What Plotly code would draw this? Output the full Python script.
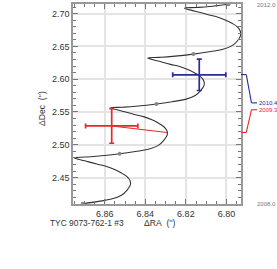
import plotly.graph_objects as go

# ---- data ----
curve_ra = [6.8709, 6.8631, 6.8567, 6.8518, 6.8491, 6.8474, 6.8476, 6.8492, 6.8518, 6.8549, 6.8591, 6.8640, 6.8699, 6.8753,
            6.8694, 6.8630, 6.8527, 6.8449, 6.8385, 6.8336, 6.8309, 6.8292, 6.8294, 6.8310, 6.8336, 6.8367, 6.8409, 6.8458, 6.8517, 6.8571,
            6.8512, 6.8448, 6.8345, 6.8267, 6.8203, 6.8154, 6.8127, 6.8110, 6.8112, 6.8128, 6.8154, 6.8185, 6.8227, 6.8276, 6.8335, 6.8389,
            6.8330, 6.8266, 6.8163, 6.8085, 6.8021, 6.7972, 6.7945, 6.7930, 6.7932, 6.7946, 6.7972, 6.8003, 6.8045, 6.8094, 6.8153, 6.8207,
            6.8148, 6.8084, 6.7990]
curve_dec = [2.4102, 2.4137, 2.4172, 2.4231, 2.4306, 2.4389, 2.4457, 2.4518, 2.4571, 2.4620, 2.4669, 2.4706, 2.4756, 2.4802,
             2.4813, 2.4828, 2.4862, 2.4897, 2.4932, 2.4991, 2.5066, 2.5149, 2.5217, 2.5278, 2.5331, 2.5380, 2.5429, 2.5466, 2.5516, 2.5562,
             2.5573, 2.5588, 2.5622, 2.5657, 2.5692, 2.5751, 2.5826, 2.5909, 2.5977, 2.6038, 2.6091, 2.6140, 2.6189, 2.6226, 2.6276, 2.6322,
             2.6333, 2.6348, 2.6382, 2.6417, 2.6452, 2.6511, 2.6586, 2.6669, 2.6737, 2.6798, 2.6851, 2.6900, 2.6949, 2.6986, 2.7036, 2.7082,
             2.7093, 2.7108, 2.7142]

years = ["2008.0", "2009.0", "2010.0", "2011.0", "2012.0"]
year_ra = [6.8709, 6.8527, 6.8345, 6.8163, 6.7990]
year_dec = [2.4102, 2.4862, 2.5622, 2.6382, 2.7142]

epochs = ["2009.3", "2010.4"]
obs_ra = [6.8566, 6.8134]
obs_dec = [2.5287, 2.6067]
err_ra = [0.0129, 0.0131]
err_dec = [0.0264, 0.0240]
pred_ra = [6.8293, 6.8138]
pred_dec = [2.5188, 2.6070]
epoch_colors = ["rgb(232,40,44)", "rgb(40,44,160)"]
label_shift = [22.7, -28.3]   # pixel offsets of the epoch labels on the right

star = "TYC 9073-762-1 #3"
x_title = "ΔRA\u00a0\u00a0('')"
y_title = "ΔDec\u00a0\u00a0('')"
time_start, time_end = "2008.0", "2012.0"

FONT = "Liberation Sans, Arial, sans-serif"

fig = go.Figure()

fig.add_trace(go.Scatter(x=curve_ra, y=curve_dec, mode="lines",
                         line=dict(color="#333333", width=1.1, shape="spline", smoothing=1.0),
                         hoverinfo="skip", showlegend=False))
fig.add_trace(go.Scatter(x=year_ra, y=year_dec, mode="markers", text=years,
                         marker=dict(size=4, color="#888888", line=dict(width=0)),
                         cliponaxis=False, showlegend=False))

for i in range(len(epochs)):
    c = epoch_colors[i]
    fig.add_trace(go.Scatter(x=[obs_ra[i], pred_ra[i]], y=[obs_dec[i], pred_dec[i]], mode="lines",
                             line=dict(color=c, width=1.1), showlegend=False))
    fig.add_trace(go.Scatter(x=[obs_ra[i]], y=[obs_dec[i]], mode="markers",
                             marker=dict(size=0.1, color=c),
                             error_x=dict(type="data", array=[err_ra[i]], color=c, thickness=1.7, width=2.5),
                             error_y=dict(type="data", array=[err_dec[i]], color=c, thickness=1.7, width=2.5),
                             showlegend=False))
    # connector from right axis to epoch label
    segs = [(0, 0, 5.3, 0), (5.3, 0, 10.5, label_shift[i]), (10.5, label_shift[i], 16, label_shift[i])]
    for (x0, y0, x1, y1) in segs:
        fig.add_shape(type="line", xref="paper", yref="y", xsizemode="pixel", ysizemode="pixel",
                      xanchor=1, yanchor=pred_dec[i], x0=x0, x1=x1, y0=y0, y1=y1,
                      line=dict(color=c, width=1.1))
    fig.add_annotation(x=1, xref="paper", y=pred_dec[i], yref="y", xshift=16, yshift=label_shift[i],
                       xanchor="left", yanchor="middle", text=epochs[i], showarrow=False,
                       font=dict(family=FONT, size=6, color=c))

fig.add_annotation(x=1, xref="paper", y=1, yref="paper", xshift=14, yshift=-1, xanchor="left", yanchor="middle",
                   text=time_end, showarrow=False, font=dict(family=FONT, size=6, color="#777777"))
fig.add_annotation(x=1, xref="paper", y=0, yref="paper", xshift=14, yshift=0, xanchor="left", yanchor="middle",
                   text=time_start, showarrow=False, font=dict(family=FONT, size=6, color="#777777"))
fig.add_annotation(x=0, xref="paper", y=0, yref="paper", xshift=-24, yshift=-18.6, xanchor="left", yanchor="middle",
                   text=star, showarrow=False, borderpad=0, font=dict(family=FONT, size=8.4, color="#333333"))
fig.add_annotation(x=0.5, xref="paper", y=0, yref="paper", xshift=3, yshift=-18.6, xanchor="center", yanchor="middle",
                   text=x_title, showarrow=False, borderpad=0, font=dict(family=FONT, size=8.6, color="#333333"))
fig.add_annotation(x=0, xref="paper", y=0.5, yref="paper", xshift=-31, yshift=-5, xanchor="center", yanchor="middle",
                   textangle=-90, text=y_title, showarrow=False, font=dict(family=FONT, size=8.6, color="#333333"))

axis_common = dict(showgrid=True, gridcolor="#e4e4e4", gridwidth=1.5, zeroline=False,
                   showline=True, linecolor="#999999", linewidth=1.5, mirror="ticks",
                   ticks="inside", ticklen=5, tickwidth=1, tickcolor="#777777",
                   tickfont=dict(family=FONT, size=9, color="#333333"), tickformat=".2f")

fig.update_xaxes(range=[6.8757, 6.7928], dtick=0.02, tick0=6.80,
                 minor=dict(dtick=0.005, ticks="inside", ticklen=3, tickcolor="#777777", showgrid=False),
                 **axis_common)
fig.update_yaxes(range=[2.4097, 2.7146], dtick=0.05, tick0=2.45,
                 minor=dict(dtick=0.01, ticks="inside", ticklen=3, tickcolor="#777777", showgrid=False),
                 **axis_common)

fig.update_layout(width=277, height=269, margin=dict(l=73, r=36, t=2, b=65),
                  paper_bgcolor="white", plot_bgcolor="white", showlegend=False,
                  font=dict(family=FONT))

fig.write_html("out.html", config={"displayModeBar": False},
               post_script="document.body.style.margin='0';document.body.style.overflow='hidden';")
